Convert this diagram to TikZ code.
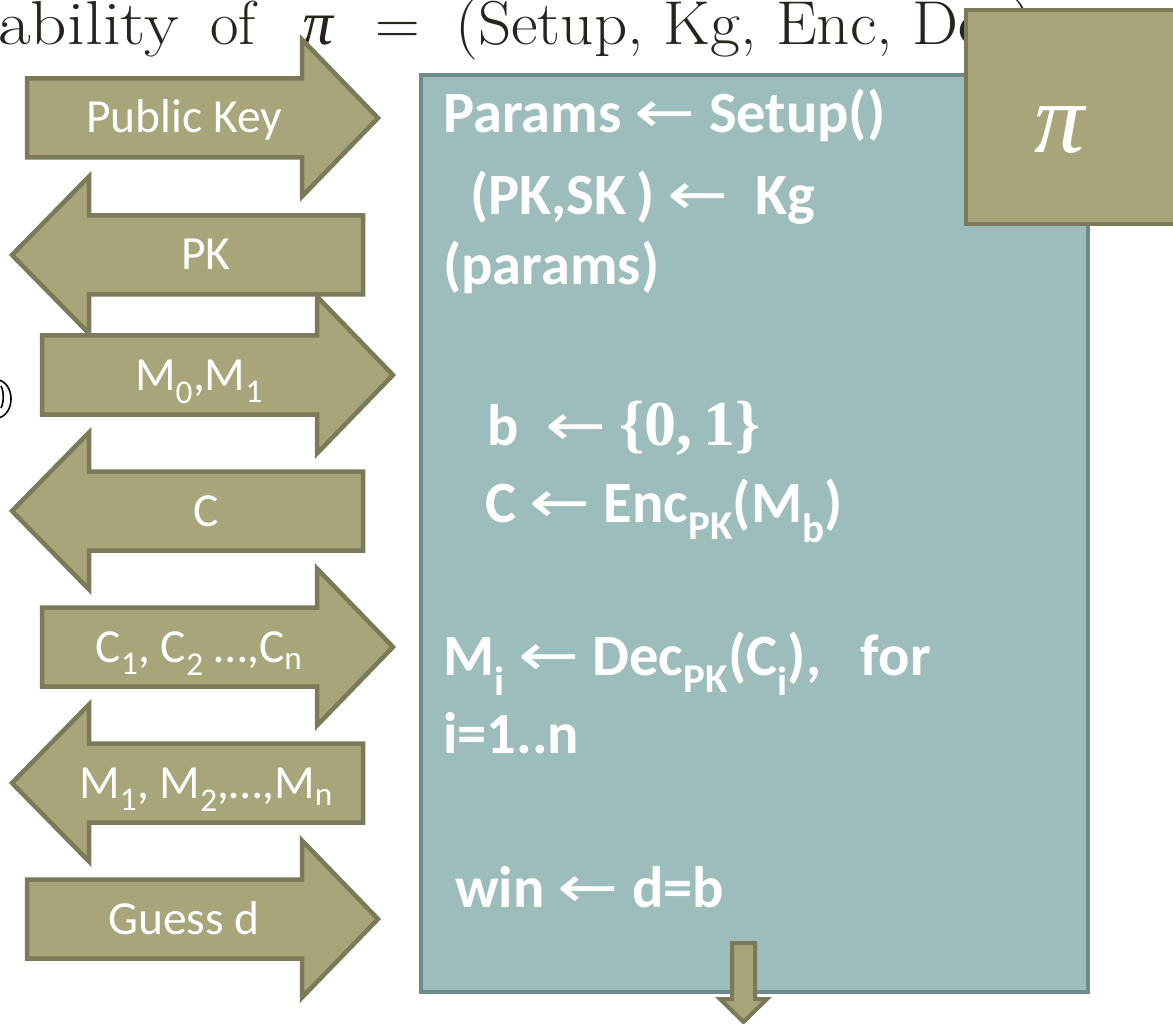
\documentclass[tikz,border=0pt]{standalone}
\usepackage{fontspec}
\newfontfamily\calibri{Carlito}
\newfontfamily\arrowfont{DejaVu Sans}
\newfontfamily\serifsym{Liberation Serif}
\usetikzlibrary{positioning}

\definecolor{olivefill}{RGB}{168,165,123}
\definecolor{oliveline}{RGB}{123,121,88}
\definecolor{tealfill}{RGB}{157,189,189}
\definecolor{tealline}{RGB}{110,139,139}
\definecolor{titleink}{RGB}{38,36,28}

\newcommand{\getsarrow}{{\arrowfont\mdseries\scalebox{1.25}[1]{←}}}
\newcommand{\pisym}{{\serifsym\itshape π}}

% block arrow pointing right: name, left end, mid line, label
\newcommand{\sendarrow}[4]{%
  \draw[msg] (#2,#3-39.5) -- (#2+275,#3-39.5) -- (#2+275,#3-78.5) -- (#2+351,#3)
    -- (#2+275,#3+78.5) -- (#2+275,#3+39.5) -- (#2,#3+39.5) -- cycle;
  \node[msglabel] (#1) at (#2+157,#3+15) {#4};}
% block arrow pointing left: name, tip, mid line, label
\newcommand{\replyarrow}[4]{%
  \draw[msg] (#2,#3) -- (#2+77,#3-78.5) -- (#2+77,#3-39.5) -- (#2+351,#3-39.5)
    -- (#2+351,#3+39.5) -- (#2+77,#3+39.5) -- (#2+77,#3+78.5) -- cycle;
  \node[msglabel] (#1) at (#2+194,#3+15) {#4};}

\begin{document}
\begin{tikzpicture}[
  x=1pt, y=-1pt,
  msg/.style={fill=olivefill, draw=oliveline, line width=4.5pt, line join=miter},
  msglabel/.style={text=white, font=\calibri\fontsize{47.5}{50}\selectfont, anchor=base, inner sep=0pt},
  board/.style={fill=tealfill, draw=tealline, line width=4.5pt},
  code/.style={text=white, font=\calibri\bfseries\fontsize{58.5}{62}\selectfont, anchor=base west, inner sep=0pt},
  heading/.style={text=titleink, font=\fontsize{62}{64}\selectfont, anchor=base west, inner sep=0pt}
]
\useasboundingbox (0,0) rectangle (1173,1024);
\fill[white] (0,0) rectangle (1173,1024);

% title line, cut at the page edge
\node[heading] (title) at (-2,45) {\makebox[212pt][l]{\scalebox{1.15}[1]{ability}}%
  \makebox[92pt][l]{of}\makebox[73pt][l]{\pisym}\makebox[80pt][l]{=}%
  \scalebox{1.05}[1]{(Setup, Kg, Enc, Dec)}};

% challenger
\draw[board] (421,75) rectangle (1088,992);
\node[code] (setup) at (443,133) {Params \getsarrow{} Setup()};
\node[code] (keygen) at (470,215) {(PK,SK\,) \getsarrow\ \ Kg};
\node[code] (kgarg) at (443,285) {(params)};
\node[code] (coin) at (487,445) {b \ \getsarrow\ {\serifsym\bfseries\fontsize{64}{64}\selectfont\{0,\,1\}}};
\node[code] (chal) at (485,522) {C \getsarrow{} Enc\textsubscript{PK}(M\textsubscript{b})};
\node[code] (dec) at (443,675) {M\textsubscript{i} \getsarrow{} Dec\textsubscript{PK}(C\textsubscript{i}),\ \ \ for};
\node[code] (range) at (443,753) {i=1..n};
\node[code] (win) at (455,907) {win \getsarrow{} d=b};

% messages
\sendarrow{pubkey}{27}{118}{Public Key}
\replyarrow{pk}{12}{255}{PK}
\sendarrow{msgs}{42}{375}{M\textsubscript{0},M\textsubscript{1}}
\replyarrow{ctext}{12}{511}{C}
\sendarrow{queries}{42}{647}{C\textsubscript{1}, C\textsubscript{2} …,C\textsubscript{n}}
\replyarrow{answers}{12}{783}{M\textsubscript{1}, M\textsubscript{2},…,M\textsubscript{n}}
\sendarrow{guess}{27}{919}{Guess d}

% scheme tag
\draw[msg] (966,10) rectangle (1195,224);
\node[text=white, font=\fontsize{100}{100}\selectfont] (scheme) at (1060,130) {\pisym};

% output arrow
\draw[msg, line width=4pt] (732,943) -- (755,943) -- (755,999) -- (767,999) -- (743.5,1022)
  -- (720,999) -- (732,999) -- cycle;

% scribble at the left edge
\draw[line width=1.6pt] (-1,380) .. controls (14,384) and (16,412) .. (-1,418);
\draw[line width=1.6pt] (1,386) .. controls (4,392) and (4,402) .. (1,408);
\end{tikzpicture}
\end{document}
